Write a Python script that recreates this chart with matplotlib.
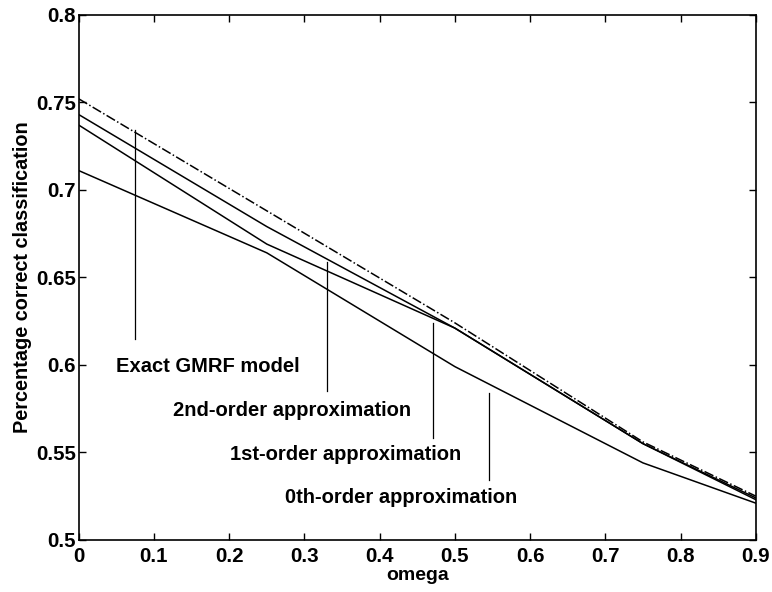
import numpy as np
import matplotlib
matplotlib.use('Agg')
import matplotlib.pyplot as plt

plt.rcParams['font.family'] = ['Liberation Sans', 'DejaVu Sans']
plt.rcParams['font.weight'] = 'bold'

omega = [0.0, 0.25, 0.5, 0.75, 0.9]
exact = [0.752, 0.688, 0.624, 0.556, 0.525]
order2 = [0.743, 0.679, 0.621, 0.555, 0.524]
order1 = [0.737, 0.669, 0.621, 0.555, 0.523]
order0 = [0.711, 0.664, 0.599, 0.544, 0.521]

labels = ['Exact GMRF model', '2nd-order approximation',
          '1st-order approximation', '0th-order approximation']
# leader lines: x, y_top, y_bottom ; text anchor: x, y
lead_x = [0.0745, 0.330, 0.471, 0.546]
lead_top = [0.734, 0.659, 0.624, 0.584]
lead_bot = [0.615, 0.585, 0.558, 0.534]
text_x = [0.05, 0.125, 0.201, 0.274]
text_y = [0.599, 0.574, 0.549, 0.524]

fig = plt.figure(figsize=(7.72, 5.92), dpi=100)
ax = fig.add_axes([0.102, 0.088, 0.877, 0.887])

ax.plot(omega, exact, color='black', linestyle='-.', linewidth=1.1)
ax.plot(omega, order2, color='black', linewidth=1.1)
ax.plot(omega, order1, color='black', linewidth=1.1)
ax.plot(omega, order0, color='black', linewidth=1.1)

for i in range(4):
    ax.plot([lead_x[i], lead_x[i]], [lead_bot[i], lead_top[i]], color='black', linewidth=0.9)
    ax.text(text_x[i], text_y[i], labels[i], fontsize=14.5, fontweight='bold', va='center', ha='left')

ax.set_xlim(0, 0.9)
ax.set_ylim(0.5, 0.8)
ax.set_xticks(np.arange(0, 0.91, 0.1))
ax.set_xticklabels(['0', '0.1', '0.2', '0.3', '0.4', '0.5', '0.6', '0.7', '0.8', '0.9'])
ax.set_yticks([0.5, 0.55, 0.6, 0.65, 0.7, 0.75, 0.8])
ax.set_yticklabels(['0.5', '0.55', '0.6', '0.65', '0.7', '0.75', '0.8'])
ax.tick_params(direction='in', top=True, right=True, labelsize=14.8, length=5, width=1)
ax.tick_params(axis='x', pad=5)
ax.tick_params(axis='y', pad=2)
for lbl in ax.get_xticklabels() + ax.get_yticklabels():
    lbl.set_fontweight('bold')
for s in ax.spines.values():
    s.set_linewidth(1.2)

ax.set_xlabel('omega', fontsize=14, fontweight='bold', labelpad=1)
ax.set_ylabel('Percentage correct classification', fontsize=14.3, fontweight='bold', labelpad=3)

fig.savefig('out.png', dpi=100)
